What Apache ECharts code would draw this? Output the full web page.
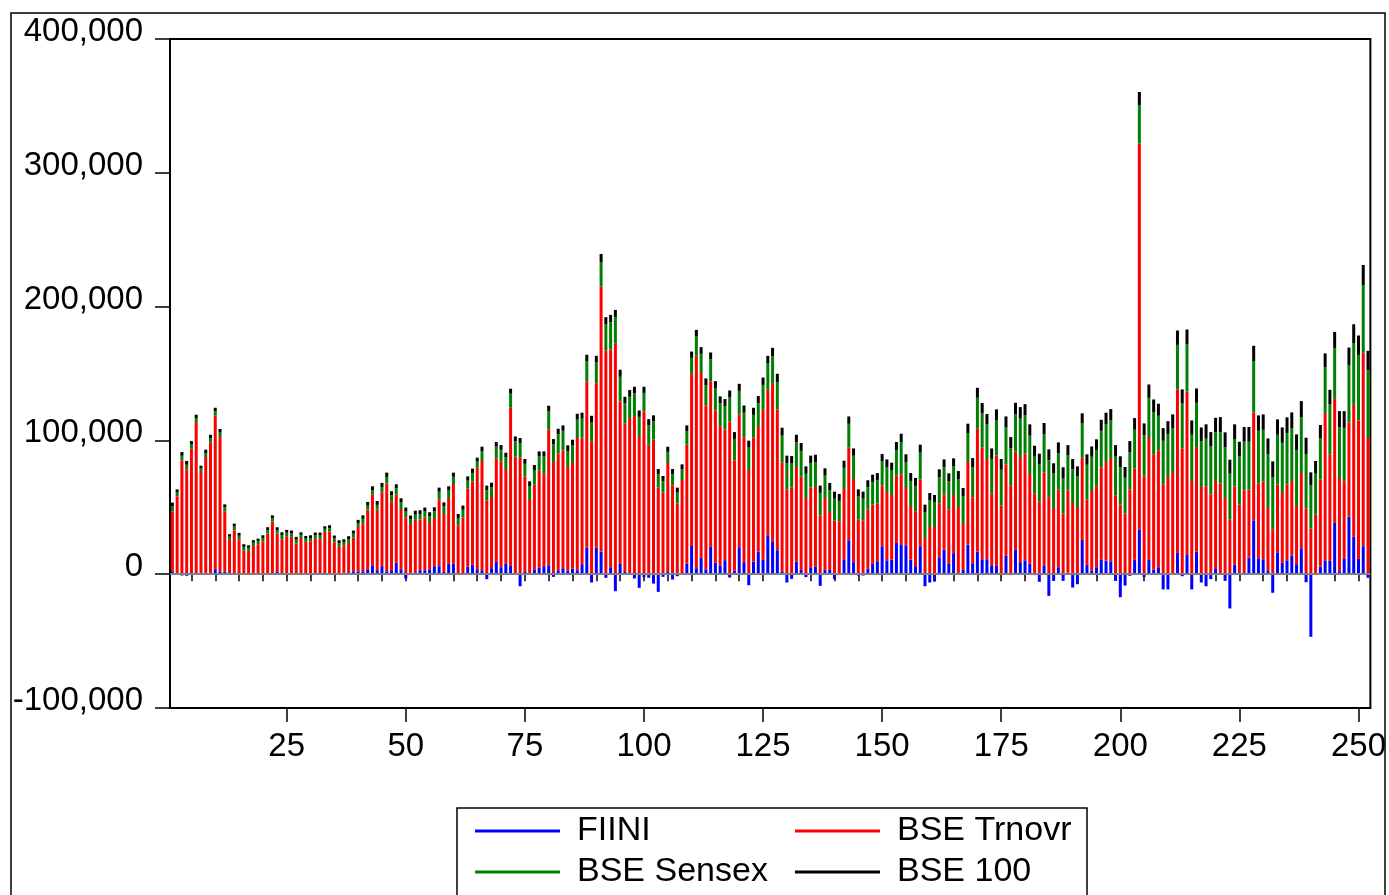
<!DOCTYPE html>
<html>
<head>
<meta charset="utf-8">
<script src="https://cdn.jsdelivr.net/npm/echarts@6/dist/echarts.min.js"></script>
<style>
html,body{margin:0;padding:0;background:#fff;}
#chart{width:1389px;height:895px;}
</style>
</head>
<body>
<div id="chart"></div>
<script>
// Values in thousands (multiplied by UNIT when building the series)
const UNIT = 1000;
const seriesNames = ['FIINI', 'BSE Trnovr', 'BSE Sensex', 'BSE 100'];
const tickLabels = [25, 50, 75, 100, 125, 150, 175, 200, 225, 250];
const categories = Array.from({length: 252}, (_, i) => String(i + 1));

const fiini = [
2.2,0.3,-1.0,-1.2,1.5,-0.5,0.3,1.0,-0.5,3.7,2.2,2.0,1.5,0.5,0.4,0.3,0.2,-0.3,0.2,0.2,
0.3,0.3,2.2,0.2,0.2,0.3,-0.3,0.2,0.3,0.2,0.2,-0.2,0.3,0.5,0.3,0.6,1.0,1.5,2.2,2.2,
2.2,3.7,6.7,3.0,6.0,2.2,3.0,8.7,3.7,-3.2,0.2,1.5,3.0,3.0,3.7,6.0,6.0,1.7,7.7,7.7,
-0.5,-0.5,5.5,7.2,3.7,3.0,-3.7,4.5,9.2,5.2,7.7,6.2,0.7,-9.0,1.7,0.5,3.7,4.7,6.0,6.7,
-2.0,3.0,4.5,2.5,4.2,3.0,7.5,19.7,-6.2,19.7,16.7,-2.7,5.2,-12.7,7.7,1.7,1.5,-3.2,-10.2,-2.0,
-2.7,-7.0,-13.2,-2.0,2.2,-4.0,-1.5,0.5,8.0,21.1,4.5,12.2,3.7,20.4,8.5,6.2,10.5,-2.5,2.5,20.2,
9.0,-8.2,9.5,16.9,10.7,29.1,24.6,17.9,2.2,-6.2,-3.5,9.5,3.2,-2.2,5.2,5.5,-8.7,3.2,3.2,-3.7,
0.2,11.2,25.4,9.0,-1.0,-1.0,4.0,7.7,9.7,20.9,10.4,10.9,23.4,22.4,21.6,10.9,6.0,20.9,-9.0,-6.2,
-5.5,12.7,18.4,7.7,15.7,0.2,3.2,22.1,8.2,16.9,11.2,11.2,6.7,6.2,0.3,13.7,-0.7,18.2,9.0,10.4,
8.0,-0.7,-5.7,6.2,-16.2,-5.0,5.2,-5.0,1.2,-10.0,-7.5,25.6,7.0,2.5,5.2,10.7,10.2,9.7,-5.0,-17.2,
-8.5,-1.2,10.7,33.3,-2.0,10.7,3.5,5.2,-11.4,-11.4,0.2,15.9,-1.5,14.4,-11.4,16.9,-6.2,-9.0,-3.7,4.5,
0.2,-5.0,-25.6,7.0,1.5,1.5,12.4,40.3,11.9,11.2,3.0,-13.9,16.4,8.5,10.4,13.9,7.5,19.4,-6.0,-46.8,
0.2,5.7,10.4,10.0,38.3,2.2,11.4,43.0,27.9,11.4,20.9,-2.7
];

const bseTrnovr = [
44.8,57.9,85.1,78.4,92.3,113.7,76.1,86.6,98.3,114.7,100.3,45.0,24.1,32.3,25.7,17.6,17.2,21.1,22.2,24.4,
30.1,39.0,28.2,25.9,28.2,27.6,22.9,26.9,23.8,24.4,26.7,26.1,31.3,31.3,23.6,19.8,20.6,21.9,25.2,33.1,
35.9,44.6,53.0,45.3,55.2,65.5,51.5,50.8,45.1,42.5,37.4,39.1,37.8,39.3,34.6,36.0,50.0,43.3,49.3,59.7,
36.6,42.3,58.4,62.0,75.9,81.6,55.0,53.2,77.4,79.1,70.2,118.2,87.1,87.1,71.4,55.0,63.2,72.9,69.1,101.5,
83.8,87.3,88.1,77.6,78.9,98.8,94.5,124.4,99.3,123.1,198.3,167.2,162.7,172.2,121.4,110.8,115.2,118.2,103.3,121.7,
96.8,100.5,64.7,61.0,80.9,66.4,52.7,69.9,88.8,128.4,158.7,138.1,122.4,123.7,113.9,104.5,97.7,114.2,82.6,99.2,
93.3,77.9,92.5,93.1,112.2,108.7,118.2,105.3,81.4,63.4,64.9,70.6,69.7,57.0,59.5,59.7,44.0,53.8,43.3,40.1,
39.4,52.5,69.1,62.2,40.8,40.3,44.3,44.5,43.0,45.5,51.1,48.3,50.2,52.0,42.8,40.1,41.0,49.8,27.1,35.3,
35.3,40.3,41.1,40.8,43.5,50.1,34.4,61.7,49.3,91.8,83.6,74.9,53.5,82.4,51.0,68.4,66.2,73.6,77.8,79.7,
66.9,60.2,54.2,69.9,57.5,49.5,58.0,45.3,61.5,53.2,49.5,61.5,48.7,59.7,60.5,69.2,73.6,77.1,59.0,52.0,
45.3,63.4,68.2,288.6,73.1,91.1,85.8,87.4,67.2,72.6,76.2,122.2,94.0,122.2,69.7,78.1,65.2,65.7,59.7,65.2,
67.5,57.0,40.8,58.7,50.5,61.2,50.8,80.6,56.0,58.2,46.5,33.6,50.8,52.2,56.5,55.8,43.5,56.2,49.0,34.1,
44.3,65.2,110.0,79.3,92.8,69.7,58.0,70.5,98.7,103.5,144.6,101.8
];

const bseSensex = [
3.6,2.9,3.4,3.4,3.1,3.0,2.6,3.0,3.2,3.3,3.3,2.9,2.4,2.8,2.6,2.5,2.3,2.4,2.3,2.5,
2.6,2.6,2.6,2.9,2.6,2.6,2.8,2.3,2.5,2.5,2.3,2.8,2.3,2.6,2.8,2.8,2.5,2.8,2.9,2.9,
3.3,2.9,3.1,3.5,4.0,5.0,4.5,4.7,4.9,4.3,3.3,3.9,4.0,4.5,5.0,5.0,5.6,5.6,5.6,5.4,
5.4,5.9,6.0,6.5,4.5,7.3,7.8,7.3,8.7,8.7,9.4,10.5,11.5,11.0,9.4,10.3,11.0,10.5,12.9,13.7,
13.3,14.4,14.6,12.0,13.1,13.7,14.2,14.9,14.4,15.4,18.3,19.4,20.4,19.8,18.5,15.1,15.9,16.9,14.3,13.8,
14.4,13.6,9.9,8.5,8.3,8.3,8.2,7.9,10.2,12.2,14.4,14.4,15.2,16.4,16.7,17.0,17.4,17.8,16.0,17.6,
18.4,16.7,17.1,17.7,18.6,19.6,20.2,20.4,19.9,19.4,17.8,18.4,19.3,18.0,18.3,18.4,16.8,16.7,16.4,16.3,
15.2,15.8,17.9,17.3,17.2,16.1,16.6,16.8,17.4,17.8,18.6,18.4,19.3,24.4,19.2,18.7,19.0,20.1,19.4,19.7,
18.3,19.5,20.3,20.9,21.3,20.8,20.8,21.7,22.3,23.1,25.3,25.8,26.0,26.6,26.8,27.6,28.0,27.8,29.4,28.5,
28.6,27.6,27.7,28.4,27.6,25.7,27.1,26.6,26.0,25.3,23.8,25.5,26.1,25.6,27.1,27.3,28.4,28.1,28.9,27.8,
26.8,27.8,29.1,28.8,30.6,30.0,31.8,25.8,32.5,31.8,32.8,33.3,33.6,35.1,34.5,33.1,34.0,35.6,35.8,36.2,
38.5,38.0,34.3,35.3,36.0,36.3,35.8,38.1,39.3,38.5,40.3,39.0,37.0,37.5,38.6,39.5,41.5,41.6,40.8,32.3,
30.6,30.9,34.4,37.5,38.0,38.0,40.0,42.9,46.2,49.0,50.6,50.6
];

const bse100 = [
2.9,2.3,2.8,2.8,2.6,2.5,2.1,2.5,2.7,2.7,2.7,2.3,1.9,2.2,2.2,2.0,1.9,1.9,1.9,2.0,
2.1,2.1,2.1,2.3,2.1,2.1,2.2,1.9,2.0,2.0,1.9,2.2,1.9,2.2,2.2,2.2,2.0,2.2,2.3,2.4,
2.6,2.8,2.9,2.9,3.0,3.2,3.0,3.0,3.0,3.0,2.9,3.0,3.0,3.0,3.0,3.0,3.1,3.1,3.1,3.1,
3.0,3.1,3.2,3.2,3.0,3.4,3.4,3.4,3.5,3.5,3.5,3.7,3.7,3.7,3.6,3.6,3.7,3.7,3.8,4.0,
3.9,4.0,4.0,4.2,4.3,4.4,4.5,5.0,4.7,5.0,6.0,5.5,5.5,5.5,5.2,5.0,5.0,5.0,4.8,4.6,
4.7,4.6,4.0,3.9,3.9,3.9,3.8,3.8,4.2,4.7,5.0,5.0,5.0,5.2,5.2,5.2,5.3,5.3,5.1,5.3,
5.4,5.2,5.3,5.4,5.5,5.8,6.2,6.2,6.0,5.8,5.6,5.7,5.8,5.6,5.6,5.7,5.4,5.4,5.3,5.3,
5.2,5.3,5.5,5.5,5.4,5.3,5.3,5.4,5.5,5.6,5.7,5.7,5.9,6.2,6.0,5.9,5.9,6.0,5.5,5.7,
5.6,5.9,6.0,6.0,6.1,6.0,6.0,7.0,7.0,7.5,7.8,7.8,7.8,8.0,8.0,8.2,8.3,8.5,8.7,8.5,
8.5,8.2,8.2,8.5,8.2,7.7,8.2,8.0,7.8,7.6,7.3,7.6,7.8,7.7,8.0,8.2,8.5,8.5,8.6,8.3,
8.0,8.3,8.7,9.7,9.0,10.0,9.5,9.0,9.5,10.0,10.2,10.7,10.5,11.2,10.7,10.7,10.5,10.7,10.7,11.0,
11.2,11.0,10.5,11.0,11.0,11.0,11.0,11.7,11.5,11.5,11.7,11.7,11.5,11.5,11.7,11.7,12.0,12.2,12.2,9.7,
9.5,9.7,10.2,11.0,12.0,12.0,12.5,13.0,14.0,14.5,15.0,14.5
];

const colors = ['#0000FF', '#FF0000', '#008000', '#000000'];
const FONT = "'Liberation Sans', Arial, Helvetica, sans-serif";

function withCommas(v) {
  const s = Math.abs(v).toString().replace(/\B(?=(\d{3})+(?!\d))/g, ',');
  return (v < 0 ? '-' : '') + s;
}

const chart = echarts.init(document.getElementById('chart'), null, {renderer: 'canvas'});
const dataSets = [fiini, bseTrnovr, bseSensex, bse100];

const series = dataSets.map((arr, k) => {
  const s = {
    name: seriesNames[k],
    type: 'bar',
    stack: 'total',
    barWidth: 3,
    xAxisIndex: 0,
    itemStyle: {color: colors[k]},
    data: arr.map(v => Math.round(v * UNIT)),
    animation: false
  };
  if (k === 0) {
    s.markLine = {
      silent: true,
      symbol: 'none',
      label: {show: false},
      lineStyle: {color: '#808080', width: 2, type: 'solid'},
      data: [{yAxis: 0}],
      z: 10
    };
  }
  return s;
});

const isMajor = (idx) => tickLabels.includes(idx + 1);
const isMinor = (idx) => (idx + 1) % 5 === 0;

const legendBase = {
  orient: 'vertical',
  top: 814,
  padding: 0,
  itemWidth: 85,
  itemHeight: 3,
  itemGap: 7,
  icon: 'rect',
  selectedMode: false,
  textStyle: {fontSize: 34, fontFamily: FONT, color: '#000', lineHeight: 30, padding: [0, 0, 0, 12]}
};

chart.setOption({
  animation: false,
  color: colors,
  textStyle: {fontFamily: FONT},
  grid: {
    left: 170, right: 16, top: 39, bottom: 187,
    show: true, borderColor: '#000', borderWidth: 2, backgroundColor: '#fff',
    containLabel: false
  },
  legend: [
    Object.assign({}, legendBase, {left: 475, data: ['FIINI', 'BSE Sensex']}),
    Object.assign({}, legendBase, {left: 795, data: ['BSE Trnovr', 'BSE 100']})
  ],
  xAxis: [
    {
      type: 'category', data: categories, boundaryGap: true, position: 'bottom',
      axisLine: {show: false},
      axisTick: {show: true, alignWithLabel: true, interval: (i) => isMinor(i), length: 7, lineStyle: {color: '#000', width: 1.5}},
      axisLabel: {show: false},
      splitLine: {show: false}
    },
    {
      type: 'category', data: categories, boundaryGap: true, position: 'bottom',
      axisLine: {show: false},
      axisTick: {show: true, alignWithLabel: true, interval: (i) => isMajor(i), length: 14, lineStyle: {color: '#000', width: 1.5}},
      axisLabel: {show: true, interval: (i) => isMajor(i), margin: 22, fontSize: 33, color: '#000', fontFamily: FONT},
      splitLine: {show: false}
    }
  ],
  yAxis: {
    type: 'value', min: -100000, max: 400000, interval: 100000,
    axisLine: {show: false},
    axisTick: {show: true, length: 15, lineStyle: {color: '#000', width: 1.5}},
    axisLabel: {margin: 27, fontSize: 33, color: '#000', fontFamily: FONT, formatter: withCommas, verticalAlign: 'bottom', lineHeight: 14},
    splitLine: {show: false}
  },
  graphic: [
    {type: 'rect', shape: {x: 11, y: 13, width: 1374, height: 900}, style: {fill: 'none', stroke: '#000', lineWidth: 1.5}, silent: true, z: 0},
    {type: 'rect', shape: {x: 457, y: 808, width: 630, height: 100}, style: {fill: 'none', stroke: '#000', lineWidth: 1.5}, silent: true, z: 0}
  ],
  series: series
});
</script>
</body>
</html>
